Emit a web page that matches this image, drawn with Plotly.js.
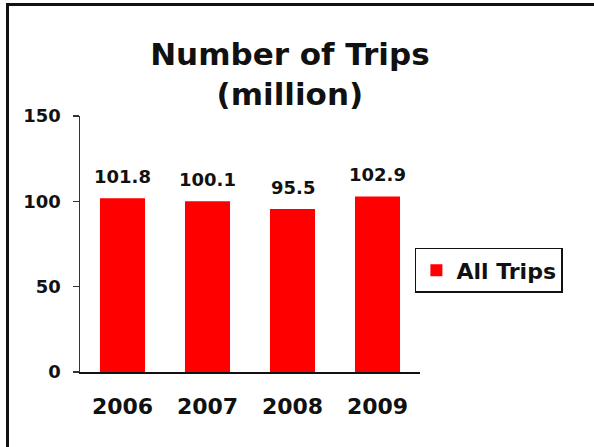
<!DOCTYPE html>
<html>
<head>
<meta charset="utf-8">
<script src="https://cdn.plot.ly/plotly-3.0.1.min.js"></script>
<style>
  html, body { margin: 0; padding: 0; overflow: hidden; background: #fff; }
  #wrap { position: relative; width: 594px; height: 447px; overflow: hidden; }
  #chart { width: 594px; height: 447px; }
  #frame { position: absolute; left: 6px; top: 3px; width: 700px; height: 600px;
           border: 3px solid #111; pointer-events: none; box-sizing: border-box; }
</style>
</head>
<body>
<div id="wrap">
  <div id="chart"></div>
  <div id="frame"></div>
</div>
<script>
const years = ['2006', '2007', '2008', '2009'];
const trips = [101.8, 100.1, 95.5, 102.9];
const seriesName = 'All Trips';
const yTicks = [0, 50, 100, 150];

const FONT = '"DejaVu Sans", Verdana, sans-serif';

const trace = {
  type: 'bar',
  x: years,
  y: trips,
  name: seriesName,
  marker: { color: '#FF0000', line: { width: 0 } },
  width: 0.53,
  hoverinfo: 'x+y'
};

const annotations = years.map((yr, i) => ({
  x: i, y: trips[i], xref: 'x', yref: 'y',
  text: trips[i].toFixed(1),
  showarrow: false, yanchor: 'bottom', yshift: 9,
  font: { family: FONT, size: 18, color: '#111', weight: 'bold' }
}));

const layout = {
  width: 594, height: 447,
  margin: { l: 80, r: 174, t: 116, b: 75 },
  paper_bgcolor: '#fff', plot_bgcolor: '#fff',
  font: { family: FONT, color: '#111' },
  title: {
    text: '<b>Number of Trips<br>(million)</b>',
    font: { family: FONT, size: 31, color: '#111' },
    x: 0.488, xref: 'container', xanchor: 'center',
    y: 1 - 65 / 447, yref: 'container', yanchor: 'top'
  },
  xaxis: {
    type: 'category',
    range: [-0.5, 3.5],
    showline: true, linecolor: '#111', linewidth: 2,
    ticks: '', showgrid: false, zeroline: false,
    tickfont: { family: FONT, size: 22, color: '#111', weight: 'bold' },
    ticklabelstandoff: 14
  },
  yaxis: {
    range: [0, 150],
    tickvals: yTicks,
    showline: true, linecolor: '#333', linewidth: 1.5,
    ticks: 'outside', ticklen: 6, tickcolor: '#333', tickwidth: 1.5,
    showgrid: false, zeroline: false,
    tickfont: { family: FONT, size: 18, color: '#111', weight: 'bold' },
    ticklabelstandoff: 8
  },
  showlegend: true,
  legend: {
    x: 0.985, xanchor: 'left', y: 0.485, yanchor: 'top',
    bordercolor: '#111', borderwidth: 1.5, bgcolor: '#fff',
    font: { family: FONT, size: 22, color: '#111', weight: 'bold' }
  },
  annotations: annotations
};

Plotly.newPlot('chart', [trace], layout, { displayModeBar: false, staticPlot: true });
</script>
</body>
</html>
